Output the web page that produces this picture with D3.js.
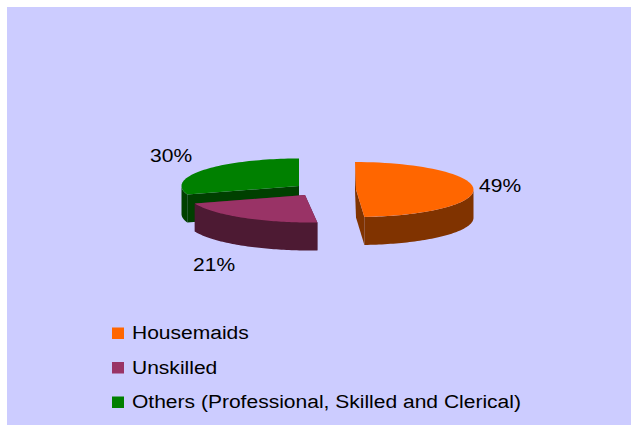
<!DOCTYPE html>
<html><head><meta charset="utf-8">
<script src="https://cdn.jsdelivr.net/npm/d3@7"></script>
<style>html,body{margin:0;padding:0;background:#fff}svg{display:block}text{font-family:"Liberation Sans",Arial,sans-serif;font-size:18px;fill:#000}</style>
</head><body><div id="c"></div>
<script>
const categories = ["Housemaids", "Unskilled", "Others (Professional, Skilled and Clerical)"];
const values = [49, 21, 30];
const valueLabels = ["49%", "21%", "30%"];
const topColors = ["#FF6600", "#993366", "#008000"];
const sideColors = ["#803300", "#4D1A33", "#004000"];

const W = 631, H = 425;
const svg = d3.select("#c").append("svg").attr("width", W).attr("height", H);
svg.append("rect").attr("x", 7).attr("y", 7).attr("width", W - 7).attr("height", H - 7).attr("fill", "#CCCCFF");

// exploded-slice layout: centre and small skew of each slice's projection
const layout = [
  {cx: 356, cy: 189.5, s: -1},
  {cx: 305, cy: 195, s: -5},
  {cx: 299, cy: 186, s: 0}
];
const rx = 117.5, ry = 27.5, depth = 28;

const arcs = d3.pie().sort(null)(values);
const line = d3.line().x(d => d[0]).y(d => d[1]);
function pt(l, a) { return [l.cx + rx * Math.sin(a) + l.s * Math.cos(a), l.cy - ry * Math.cos(a)]; }
function sweep(l, a0, a1) { return d3.range(0, 61).map(i => pt(l, a0 + (a1 - a0) * i / 60)); }
const down = p => [p[0], p[1] + depth];

[2, 1, 0].forEach(i => {
  const a = arcs[i], l = layout[i], c = [l.cx, l.cy];
  const g = svg.append("g");
  [a.startAngle, a.endAngle].forEach(t => {
    const e = pt(l, t);
    g.append("path").attr("d", line([c, e, down(e), down(c)]) + "Z").attr("fill", sideColors[i]);
  });
  const lo = Math.max(a.startAngle, Math.PI / 2), hi = Math.min(a.endAngle, 3 * Math.PI / 2);
  if (hi > lo) {
    const s = sweep(l, lo, hi);
    g.append("path").attr("d", line(s.concat(s.map(down).reverse())) + "Z").attr("fill", sideColors[i]);
  }
  g.append("path").attr("d", line([c].concat(sweep(l, a.startAngle, a.endAngle))) + "Z").attr("fill", topColors[i]);
});

const stretch = 1.168;
function label(x, y, t) {
  svg.append("text").attr("transform", `translate(${x},${y}) scale(${stretch},1)`).text(t);
}
const labelPos = [[479, 192], [193, 271], [150, 162]];
valueLabels.forEach((t, i) => label(labelPos[i][0], labelPos[i][1], t));

const ly = d3.scaleLinear().domain([0, 2]).range([339, 408]);
categories.forEach((t, i) => {
  svg.append("rect").attr("x", 112).attr("y", ly(i) - 11.5).attr("width", 12).attr("height", 11.5).attr("fill", topColors[i]);
  label(132, ly(i), t);
});
</script></body></html>
